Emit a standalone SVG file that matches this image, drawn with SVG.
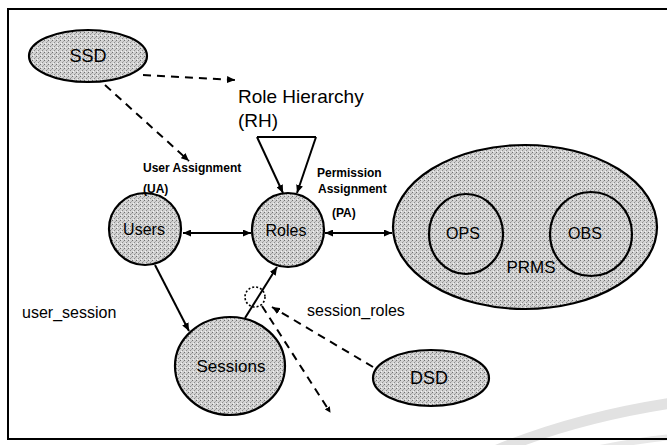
<svg xmlns="http://www.w3.org/2000/svg" width="667" height="445" viewBox="0 0 667 445">
  <defs>
    <!-- halftone-like grey fill for the entity shapes -->
    <pattern id="stip" width="4" height="4" patternUnits="userSpaceOnUse">
      <rect width="4" height="4" fill="#d2d2d2"/>
      <rect x="0" y="0" width="1" height="1" fill="#707070"/>
      <rect x="2" y="2" width="1" height="1" fill="#8c8c8c"/>
      <rect x="1" y="3" width="1" height="1" fill="#f4f4f4"/>
      <rect x="3" y="1" width="1" height="1" fill="#a8a8a8"/>
    </pattern>
    <marker id="arr" viewBox="0 0 8 7" refX="8" refY="3.5" markerWidth="8" markerHeight="7" markerUnits="userSpaceOnUse" orient="auto-start-reverse">
      <path d="M0,0 L8,3.5 L0,7 z" fill="#000"/>
    </marker>
    <marker id="tip" viewBox="0 0 6 6" refX="5" refY="3" markerWidth="6" markerHeight="6" markerUnits="userSpaceOnUse" orient="auto">
      <path d="M0,0 L6,3 L0,6 z" fill="#000"/>
    </marker>
  </defs>
  <style>
    .shape { fill: url(#stip); stroke: #000; stroke-width: 2.2; }
    .solid { fill: none; stroke: #000; stroke-width: 2; }
    .dash { fill: none; stroke: #000; stroke-width: 2; stroke-dasharray: 8 6; }
    .t { font-family: "Liberation Sans", Arial, sans-serif; fill: #000; }
    .node { font-size: 16px; text-anchor: middle; }
    .lbl { font-size: 12px; font-weight: bold; }
    .big { font-size: 19px; }
    .mid { font-size: 16px; }
  </style>

  <rect width="667" height="445" fill="#fff"/>

  <!-- scanner swoosh in the lower right -->
  <path d="M470,462 Q560,420 672,403" fill="none" stroke="#e2e2e2" stroke-width="11"/>
  <path d="M600,448 Q640,440 672,437" fill="none" stroke="#e8e8e8" stroke-width="6"/>

  <!-- frame -->
  <path d="M8,440 L8,9 L667,9" fill="none" stroke="#000" stroke-width="2"/>
  <path d="M8,439 L667,439" fill="none" stroke="#000" stroke-width="2"/>

  <g id="connectors">
    <!-- role hierarchy triangle -->
    <line class="solid" x1="257" y1="137" x2="316" y2="137"/>
    <line class="solid" x1="257" y1="137" x2="283" y2="193" marker-end="url(#arr)"/>
    <line class="solid" x1="316" y1="137" x2="297" y2="193" marker-end="url(#arr)"/>
    <!-- assignments -->
    <line class="solid" x1="183" y1="233" x2="251" y2="233" marker-start="url(#arr)" marker-end="url(#arr)"/>
    <line class="solid" x1="325" y1="233" x2="392" y2="233" marker-start="url(#arr)" marker-end="url(#arr)"/>
    <line class="solid" x1="503" y1="233" x2="550" y2="233" marker-end="url(#arr)"/>
    <!-- sessions -->
    <line class="solid" x1="155" y1="265" x2="189" y2="331" marker-end="url(#arr)"/>
    <line class="solid" x1="245" y1="318" x2="277" y2="267" marker-end="url(#arr)"/>
    <circle cx="255" cy="297" r="10" fill="none" stroke="#000" stroke-width="1.6" stroke-dasharray="2 2"/>
    <!-- separation of duty constraints -->
    <line class="dash" x1="143" y1="75" x2="235" y2="80" marker-end="url(#arr)"/>
    <line class="dash" x1="105" y1="85" x2="189" y2="161" marker-end="url(#arr)"/>
    <line class="dash" x1="373" y1="367" x2="272" y2="307" marker-end="url(#arr)"/>
    <line class="dash" x1="262" y1="306" x2="330" y2="412" marker-end="url(#tip)"/>
  </g>

  <g id="ssd">
    <ellipse class="shape" cx="88" cy="56" rx="59" ry="26"/>
    <text class="t node" x="88" y="62" style="font-size:18px">SSD</text>
  </g>

  <g id="users">
    <circle class="shape" cx="145" cy="229" r="36"/>
    <text class="t node" x="144" y="235">Users</text>
  </g>

  <g id="roles">
    <ellipse class="shape" cx="288" cy="230" rx="36" ry="37"/>
    <text class="t node" x="286" y="236">Roles</text>
  </g>

  <g id="prms">
    <ellipse class="shape" cx="525" cy="227" rx="132" ry="82"/>
    <text class="t node" x="531" y="273" style="font-size:17px">PRMS</text>
  </g>

  <g id="ops">
    <ellipse class="shape" cx="466" cy="234" rx="37" ry="40"/>
    <text class="t node" x="463" y="239">OPS</text>
  </g>

  <g id="obs">
    <ellipse class="shape" cx="591" cy="234" rx="41" ry="42"/>
    <text class="t node" x="585" y="239">OBS</text>
  </g>

  <g id="sessions">
    <ellipse class="shape" cx="230" cy="366" rx="55" ry="49"/>
    <text class="t node" x="231" y="372" style="font-size:17px">Sessions</text>
  </g>

  <g id="dsd">
    <ellipse class="shape" cx="431" cy="378" rx="58" ry="28"/>
    <text class="t node" x="429" y="384" style="font-size:18px">DSD</text>
  </g>

  <g id="labels">
    <text class="t big" x="238" y="103">Role Hierarchy</text>
    <text class="t big" x="238" y="127">(RH)</text>
    <text class="t lbl" x="143" y="172">User Assignment</text>
    <text class="t lbl" x="143" y="193">(UA)</text>
    <text class="t lbl" x="317" y="177">Permission</text>
    <text class="t lbl" x="318" y="193">Assignment</text>
    <text class="t lbl" x="332" y="217">(PA)</text>
    <text class="t mid" x="22" y="318">user_session</text>
    <text class="t mid" x="307" y="316">session_roles</text>
  </g>
</svg>
